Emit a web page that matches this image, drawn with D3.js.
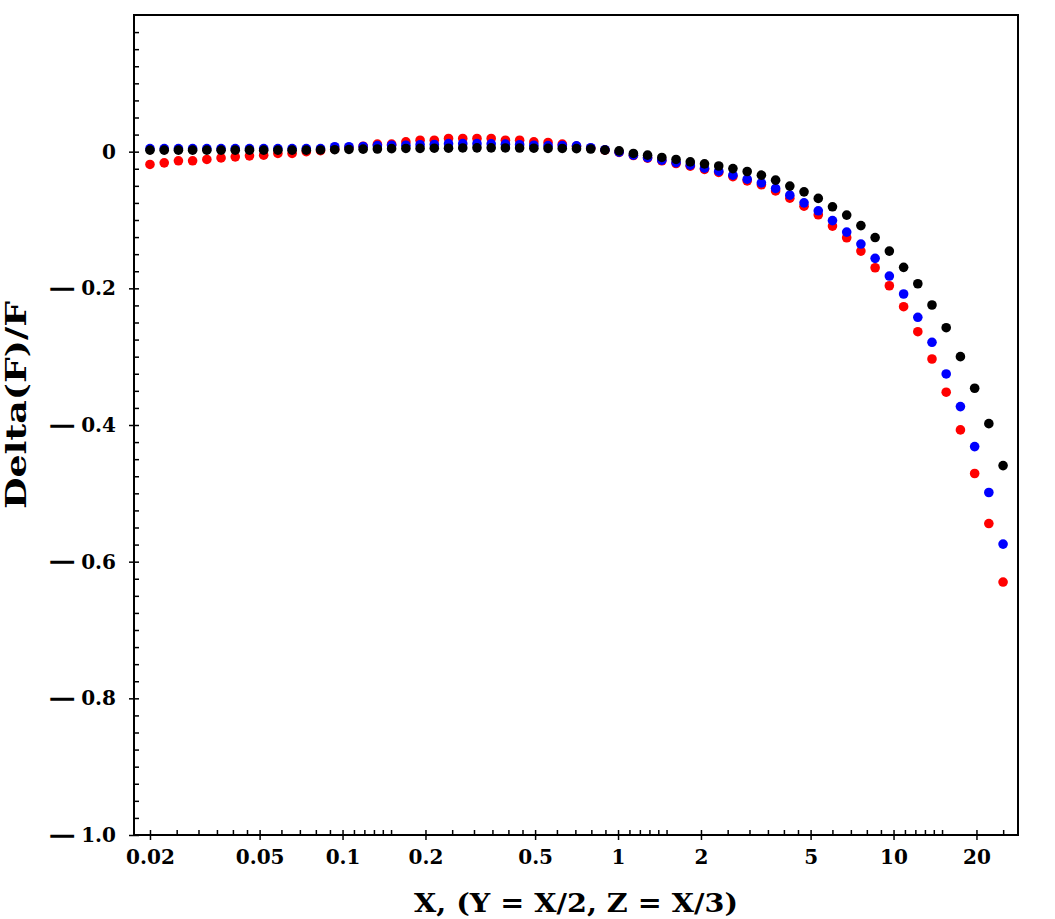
<!DOCTYPE html>
<html>
<head>
<meta charset="utf-8">
<script src="https://cdn.jsdelivr.net/npm/d3@7"></script>
<style>
  body { margin: 0; background: #fff; }
  .axis text { font-family: "DejaVu Serif", serif; font-weight: bold; font-size: 20px; fill: #000; }
  .axis line { stroke: #000; stroke-width: 1.5; }
  .title { font-family: "DejaVu Serif", serif; font-weight: bold; fill: #000; }
</style>
</head>
<body>
<div id="chart_wrapper"></div>
<script>
// x positions shared by the three series
var xValues = [0.02, 0.02253, 0.02537, 0.02856, 0.03217, 0.03623, 0.04079, 0.04594, 0.05173, 0.05825,
    0.0656, 0.07387, 0.08319, 0.09368, 0.1055, 0.1188, 0.1338, 0.1507, 0.1698, 0.1912,
    0.2153, 0.2425, 0.2731, 0.3076, 0.3464, 0.3901, 0.4393, 0.4948, 0.5572, 0.6275,
    0.7067, 0.7959, 0.8963, 1.009, 1.137, 1.28, 1.442, 1.624, 1.829, 2.06,
    2.32, 2.612, 2.943, 3.314, 3.732, 4.203, 4.733, 5.331, 6.003, 6.761,
    7.613, 8.574, 9.656, 10.88, 12.25, 13.79, 15.53, 17.49, 19.7, 22.18, 24.98];

var redValues = [-0.0187, -0.0164, -0.0134, -0.0134, -0.0114, -0.0091, -0.0076, -0.0061, -0.0051, -0.0026,
    -0.0026, 0.0, 0.0015, 0.0037, 0.0058, 0.008, 0.011, 0.011, 0.0143, 0.0168,
    0.0168, 0.0193, 0.0193, 0.0193, 0.0193, 0.0168, 0.0168, 0.0143, 0.0135, 0.011,
    0.008, 0.0051, 0.0022, -0.001, -0.0056, -0.0094, -0.0133, -0.0173, -0.0212, -0.0259,
    -0.0304, -0.0365, -0.0427, -0.0485, -0.0575, -0.068, -0.0797, -0.0924, -0.1089, -0.126,
    -0.1455, -0.1699, -0.1962, -0.2269, -0.2635, -0.3034, -0.352, -0.4072, -0.471, -0.5442, -0.6298];

var blueValues = [0.0044, 0.0044, 0.0044, 0.0044, 0.0044, 0.0044, 0.0044, 0.0044, 0.0044, 0.0044,
    0.0044, 0.0044, 0.0044, 0.0073, 0.0073, 0.0076, 0.0088, 0.0095, 0.0095, 0.0102,
    0.0105, 0.0117, 0.0117, 0.0117, 0.0115, 0.011, 0.0102, 0.0095, 0.0088, 0.0088,
    0.0085, 0.0058, 0.0029, -0.0007, -0.0051, -0.0088, -0.0124, -0.016, -0.0197, -0.0241,
    -0.0285, -0.0344, -0.0402, -0.0456, -0.0538, -0.0636, -0.0749, -0.0865, -0.1009, -0.1177,
    -0.1352, -0.1561, -0.182, -0.2083, -0.2424, -0.279, -0.3253, -0.3731, -0.4316, -0.4988, -0.5743];

var blackValues = [0.0022, 0.0022, 0.0022, 0.0022, 0.0022, 0.0022, 0.0022, 0.0022, 0.0022, 0.0022,
    0.0022, 0.0022, 0.0025, 0.0029, 0.0032, 0.0037, 0.0039, 0.0044, 0.0047, 0.0048,
    0.0051, 0.0051, 0.0054, 0.0056, 0.0056, 0.0054, 0.0053, 0.0051, 0.0048, 0.0047,
    0.0044, 0.0039, 0.0022, 0.0012, -0.0026, -0.0051, -0.0085, -0.0114, -0.015, -0.0178,
    -0.021, -0.0248, -0.029, -0.0344, -0.0417, -0.0504, -0.0588, -0.0684, -0.0807, -0.0928,
    -0.1082, -0.1257, -0.1455, -0.1693, -0.1933, -0.2244, -0.2576, -0.300, -0.3462, -0.398, -0.4594];

var xMajorTicks = [0.02, 0.05, 0.1, 0.2, 0.5, 1, 2, 5, 10, 20];
var xTickLabels = ["0.02", "0.05", "0.1", "0.2", "0.5", "1", "2", "5", "10", "20"];
var xMinorTicks = [0.025, 0.03, 0.035, 0.04, 0.045, 0.06, 0.07, 0.08, 0.09,
    0.11, 0.12, 0.13, 0.14, 0.15, 0.25, 0.3, 0.35, 0.4, 0.45, 0.6, 0.7, 0.8, 0.9,
    1.1, 1.2, 1.3, 1.4, 1.5, 2.5, 3, 3.5, 4, 4.5, 6, 7, 8, 9,
    11, 12, 13, 14, 15, 25];
var yMajorTicks = [0, -0.2, -0.4, -0.6, -0.8, -1.0];
var yTickLabels = ["0", "\u22120.2", "\u22120.4", "\u22120.6", "\u22120.8", "\u22121.0"];
var yMinorTicks = [0.175, 0.15, 0.125, 0.1, 0.075, 0.05, 0.025,
    -0.025, -0.05, -0.075, -0.1, -0.125, -0.15, -0.175,
    -0.225, -0.25, -0.275, -0.3, -0.325, -0.35, -0.375,
    -0.425, -0.45, -0.475, -0.5, -0.525, -0.55, -0.575,
    -0.625, -0.65, -0.675, -0.7, -0.725, -0.75, -0.775,
    -0.825, -0.85, -0.875, -0.9, -0.925, -0.95, -0.975];

var series = [
    {name: "red", values: redValues, color: "#ff0000"},
    {name: "blue", values: blueValues, color: "#0000ff"},
    {name: "black", values: blackValues, color: "#000000"}
];

var totalWidth = 1055,
    totalHeight = 919,
    margin = {left: 134, right: 37, top: 15, bottom: 84};

var width = totalWidth - margin.left - margin.right;
var height = totalHeight - margin.top - margin.bottom;

var svg = d3.select("#chart_wrapper").append("svg")
    .attr("width", totalWidth).attr("height", totalHeight)
    .append("g").attr("transform", "translate(" + margin.left + "," + margin.top + ")");

var x = d3.scaleLog().domain([0.0175, 28.3]).range([0, width]);
var y = d3.scaleLinear().domain([-1, 0.2]).range([height, 0]);

// minor ticks, inside only
svg.append("g").attr("class", "axis")
    .attr("transform", "translate(0," + height + ")")
    .call(d3.axisBottom(x).tickValues(xMinorTicks).tickSize(-5).tickFormat(""))
    .call(function(g) { g.select(".domain").remove(); });

svg.append("g").attr("class", "axis")
    .call(d3.axisLeft(y).tickValues(yMinorTicks).tickSize(-5).tickFormat(""))
    .call(function(g) { g.select(".domain").remove(); });

// major ticks cross the frame
var xAxis = svg.append("g").attr("class", "axis")
    .attr("transform", "translate(0," + height + ")")
    .call(d3.axisBottom(x).tickValues(xMajorTicks).tickSize(5).tickPadding(10)
        .tickFormat(function(d, i) { return xTickLabels[i]; }));
xAxis.select(".domain").remove();
xAxis.selectAll(".tick line").attr("y1", -5).attr("y2", 5);

var yAxis = svg.append("g").attr("class", "axis")
    .call(d3.axisLeft(y).tickValues(yMajorTicks).tickSize(5).tickPadding(13)
        .tickFormat(function(d, i) { return yTickLabels[i]; }));
yAxis.select(".domain").remove();
yAxis.selectAll(".tick line").attr("x1", -5).attr("x2", 5);
// long thin minus with a gap, as in the typeset original
yAxis.selectAll(".tick text").each(function() {
    var t = d3.select(this), s = t.text();
    if (s.charAt(0) != "\u2212") return;
    t.text("");
    t.append("tspan").attr("font-size", 38).attr("font-weight", "normal").attr("dy", 12.2).text("\u2212");
    t.append("tspan").attr("dx", 3).attr("dy", -5.8).text(s.slice(1));
});

// frame
svg.append("rect")
    .attr("width", width).attr("height", height)
    .attr("fill", "none").attr("stroke", "#000").attr("stroke-width", 2);

series.forEach(function(s) {
    svg.append("g").attr("class", "dots_" + s.name)
        .selectAll("circle").data(s.values).enter().append("circle")
        .attr("cx", function(d, i) { return x(xValues[i]); })
        .attr("cy", function(d) { return y(d); })
        .attr("r", 4.8)
        .attr("fill", s.color);
});

svg.append("text").attr("class", "title")
    .attr("x", width / 2).attr("y", height + 77)
    .attr("text-anchor", "middle").attr("font-size", 26)
    .attr("textLength", 324).attr("lengthAdjust", "spacingAndGlyphs")
    .text("X, (Y = X/2, Z = X/3)");

svg.append("text").attr("class", "title")
    .attr("transform", "translate(" + (-108) + "," + 390 + ") rotate(-90)")
    .attr("text-anchor", "middle").attr("font-size", 28)
    .attr("textLength", 208).attr("lengthAdjust", "spacingAndGlyphs")
    .text("Delta(F)/F");
</script>
</body>
</html>
